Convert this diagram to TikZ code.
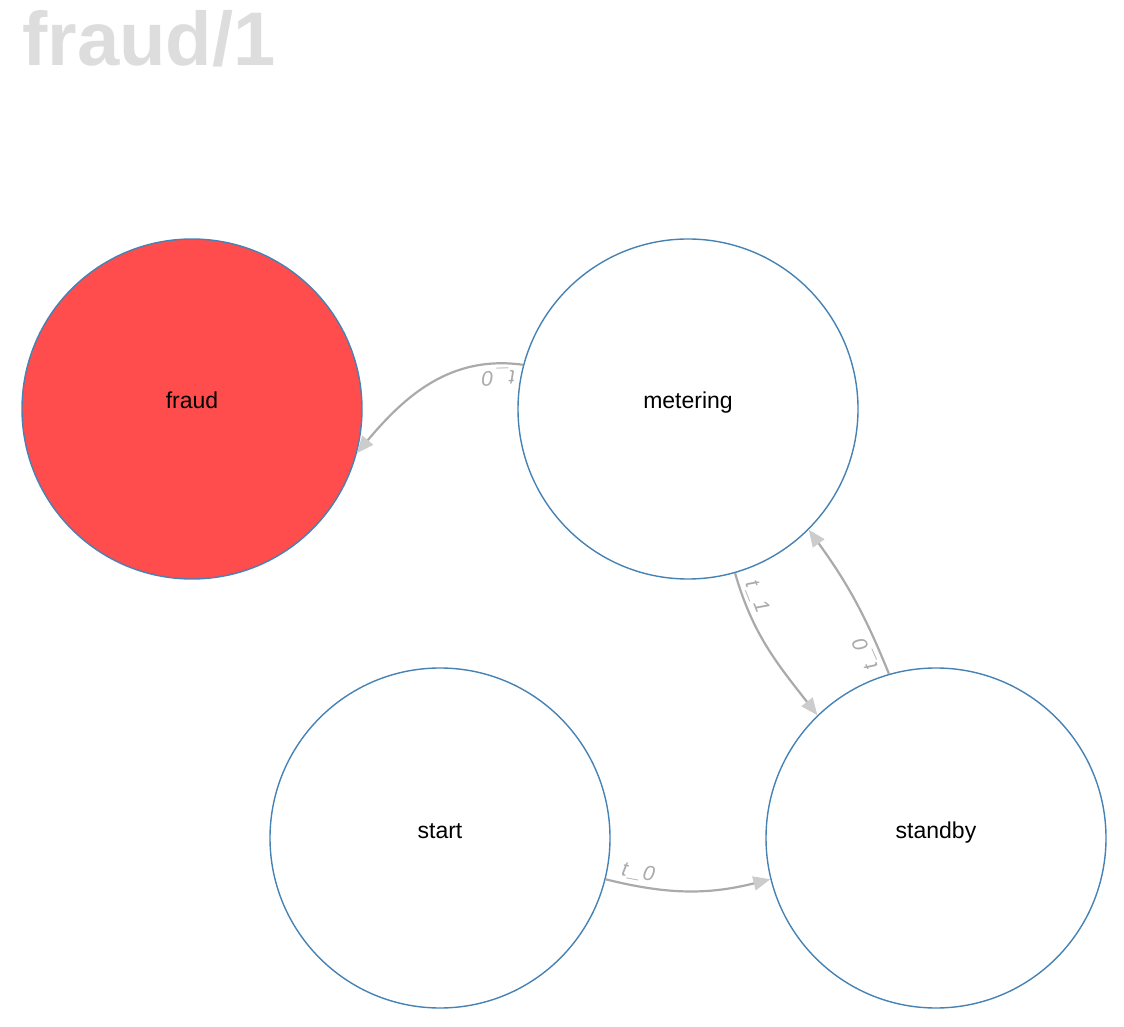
\documentclass[tikz,border=0pt]{standalone}
\usepackage{fontspec}
\setmainfont{Liberation Sans}
\usetikzlibrary{arrows.meta}
\definecolor{stroke}{HTML}{4682B4}
\definecolor{fraudred}{HTML}{FF4C4C}
\definecolor{edgec}{HTML}{AAAAAA}
\definecolor{tipc}{HTML}{CCCCCC}
\definecolor{titlec}{HTML}{DDDDDD}
\newcommand{\tlab}[1]{t\kern2pt\_\kern2pt#1}
\begin{document}
\begin{tikzpicture}[x=1pt,y=1pt,
  state/.style={circle,draw=stroke,line width=1.4pt,minimum size=340pt,inner sep=0pt,fill=white},
  slabel/.style={anchor=base,inner sep=0pt,font=\fontsize{23}{23}\selectfont},
  edge/.style={draw=edgec,line width=2.2pt,-{Triangle[length=17pt,width=14pt,color=tipc]}},
  elabel/.style={sloped,allow upside down,above,font=\fontsize{21}{21}\selectfont\itshape,text=edgec,inner sep=4pt}]
\useasboundingbox (0,0) rectangle (1124,1026);
\node[anchor=base west,text=titlec,font=\fontsize{76}{76}\selectfont\bfseries,inner sep=0pt] (title) at (22,960) {fraud/1};
\node[state,fill=fraudred] (fraud) at (192,617) {};
\node[state] (metering) at (688,617) {};
\node[state] (start) at (440,188) {};
\node[state] (standby) at (936,188) {};
\node[slabel] (fraudl) at (fraud.center) {fraud};
\node[slabel] (meteringl) at (metering.center) {metering};
\node[slabel] (startl) at (start.center) {start};
\node[slabel] (standbyl) at (standby.center) {standby};
\draw[edge] (metering.165) to[out=172,in=50] node[elabel,pos=0.12] (e1) {\tlab{0}} (fraud.-15);
\draw[edge] (metering.-74) to[out=-74,in=128] node[elabel,pos=0.17] (e2) {\tlab{1}} (standby.134);
\draw[edge] (standby.106) to[out=112,in=-54] node[elabel,pos=0.15] (e3) {\tlab{0}} (metering.-45);
\draw[edge] (start.-14) to[out=-14,in=-166] node[elabel,pos=0.17] (e4) {\tlab{0}} (standby.-166);
\end{tikzpicture}
\end{document}
